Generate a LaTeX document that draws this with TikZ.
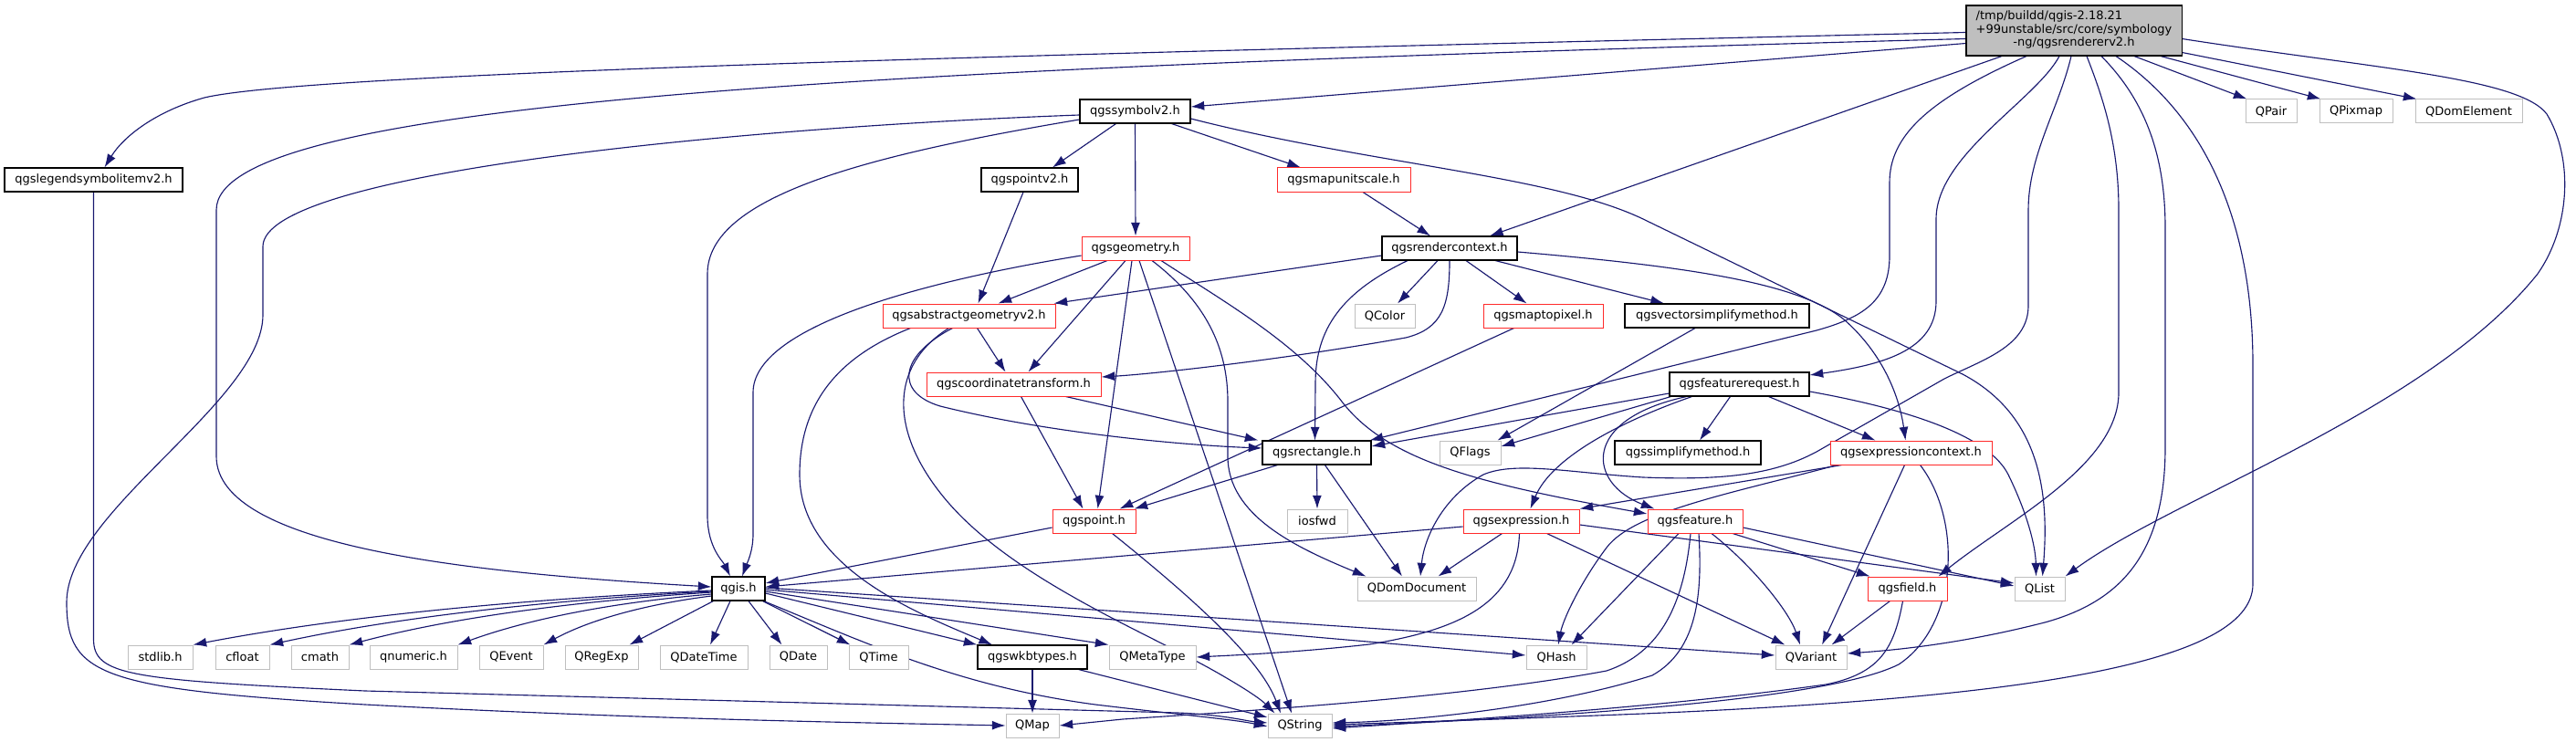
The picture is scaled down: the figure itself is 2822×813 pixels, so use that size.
\documentclass[tikz,border=0pt]{standalone}
\usepackage{fontspec}
\setmainfont{DejaVu Sans}
\usetikzlibrary{calc,arrows.meta}
\definecolor{dxblue}{HTML}{191970}
\definecolor{dxred}{HTML}{FF2A2A}
\definecolor{dxgray}{HTML}{BFBFBF}
\newcommand\nfont{\fontsize{9.75}{11.5}\selectfont}
\pgfdeclarelayer{edges}
\pgfsetlayers{edges,main}
\newcommand\gnode[6]{\node[#1,minimum width=#5*0.75pt] (#2) at (#3,#4) {#6};}
\begin{document}
\begin{tikzpicture}[x=0.75pt,y=-0.75pt,
  nb/.style={draw=black,line width=0.8pt,fill=white,minimum height=19.5pt,inner sep=0pt,font=\nfont},
  nr/.style={nb,draw=dxred,line width=0.75pt},
  ng/.style={nb,draw=dxgray,line width=0.75pt},
  edg/.style={draw=dxblue,line width=0.85pt,-{Latex[length=11pt,width=7.5pt]}}]
\useasboundingbox (0,0) rectangle (2822,813);
% nodes
\node[draw=black,fill=dxgray,line width=0.8pt,minimum width=236*0.75pt,minimum height=55*0.75pt,inner sep=0pt,font=\nfont] (root) at (2272,33.5)
  {\def\arraystretch{0.95}\begin{tabular}{@{}l@{}}/tmp/buildd/qgis-2.18.21\\+99unstable/src/core/symbology\\\multicolumn{1}{@{}c@{}}{-ng/qgsrendererv2.h}\end{tabular}};
\gnode{nb}{symbolv2}{1243.5}{122}{121}{qgssymbolv2.h}
\gnode{ng}{QPair}{2488}{122}{56}{QPair}
\gnode{ng}{QPixmap}{2581}{122}{80}{QPixmap}
\gnode{ng}{QDomElement}{2704.5}{122}{117}{QDomElement}
\gnode{nb}{legend}{102.5}{197}{195}{qgslegendsymbolitemv2.h}
\gnode{nb}{pointv2}{1128}{197}{106}{qgspointv2.h}
\gnode{nr}{mapunitscale}{1472}{197}{146}{qgsmapunitscale.h}
\gnode{nr}{geometry}{1244}{272}{118}{qgsgeometry.h}
\gnode{nb}{rendercontext}{1588}{272}{148}{qgsrendercontext.h}
\gnode{nr}{abstract}{1061.5}{346}{189}{qgsabstractgeometryv2.h}
\gnode{ng}{QColor}{1517}{346}{66}{QColor}
\gnode{nr}{maptopixel}{1690.5}{346}{131}{qgsmaptopixel.h}
\gnode{nb}{vectorsimplify}{1881}{346}{202}{qgsvectorsimplifymethod.h}
\gnode{nr}{coordtrans}{1110.5}{421}{191}{qgscoordinatetransform.h}
\gnode{nb}{featurereq}{1905.5}{421}{153}{qgsfeaturerequest.h}
\gnode{nb}{rectangle}{1442.5}{496}{119}{qgsrectangle.h}
\gnode{ng}{QFlags}{1610.5}{496}{67}{QFlags}
\gnode{nb}{simplify}{1849}{496}{160}{qgssimplifymethod.h}
\gnode{nr}{exprctx}{2093.5}{496}{177}{qgsexpressioncontext.h}
\gnode{nr}{point}{1198.5}{571}{91}{qgspoint.h}
\gnode{ng}{iosfwd}{1443}{571}{66}{iosfwd}
\gnode{nr}{expression}{1666.5}{571}{127}{qgsexpression.h}
\gnode{nr}{feature}{1857}{571}{104}{qgsfeature.h}
\gnode{ng}{QDomDocument}{1552}{645}{130}{QDomDocument}
\gnode{nr}{field}{2089.5}{645}{87}{qgsfield.h}
\gnode{ng}{QList}{2234.5}{645}{55}{QList}
\gnode{nb}{qgis}{809}{645}{58}{qgis.h}
\gnode{ng}{stdlib}{175.5}{720}{71}{stdlib.h}
\gnode{ng}{cfloat}{265.5}{720}{59}{cfloat}
\gnode{ng}{cmath}{350.5}{720}{63}{cmath}
\gnode{ng}{qnumeric}{453}{720}{96}{qnumeric.h}
\gnode{ng}{QEvent}{560}{720}{70}{QEvent}
\gnode{ng}{QRegExp}{659}{720}{80}{QRegExp}
\gnode{ng}{QDateTime}{771}{720}{96}{QDateTime}
\gnode{ng}{QDate}{874.5}{720}{63}{QDate}
\gnode{ng}{QTime}{962.5}{720}{65}{QTime}
\gnode{nb}{wkbtypes}{1131}{720}{120}{qgswkbtypes.h}
\gnode{ng}{QMetaType}{1262.5}{720}{95}{QMetaType}
\gnode{ng}{QHash}{1705}{720}{66}{QHash}
\gnode{ng}{QVariant}{1984}{720}{78}{QVariant}
\gnode{ng}{QMap}{1131}{795}{58}{QMap}
\gnode{ng}{QString}{1424}{795}{70}{QString}
% edges
\begin{pgfonlayer}{edges}
\fill[white] (0,0) rectangle (2822,813);
% root
\draw[edg] ($(root.west)+(0,2)$) .. controls (1000,62) and (330,82) .. (224,107) .. controls (170,122) and (135,150) .. ($(legend.north)+(12,0)$);
\draw[edg] ($(root.west)+(0,9)$) .. controls (950,75) and (237,110) .. (237,230) -- (237,500) .. controls (237,600) and (520,628) .. ($(qgis.west)+(0,-2)$);
\draw[edg] ($(root.west)+(0,14)$) -- ($(symbolv2.east)+(0,-5)$);
\draw[edg] ($(root.south)+(-79,0)$) -- ($(rendercontext.north)+(44,0)$);
\draw[edg] ($(root.south)+(-52,0)$) .. controls (2110,110) and (2070,150) .. (2070,200) -- (2070,280) .. controls (2070,330) and (2040,348) .. (1990,362) -- ($(rectangle.north east)+(-2,0)$);
\draw[edg] ($(root.south)+(-16,0)$) .. controls (2230,110) and (2121,170) .. (2121,240) -- (2121,330) .. controls (2121,385) and (2060,400) .. ($(featurereq.east)+(0,-10)$);
\draw[edg] ($(root.south)+(-3,0)$) .. controls (2255,120) and (2222,170) .. (2222,230) -- (2222,335) .. controls (2222,380) and (2170,395) .. (2130,415) -- (1990,495) .. controls (1940,522) and (1880,526) .. (1800,523) .. controls (1720,518) and (1660,505) .. (1625,520) .. controls (1580,545) and (1560,590) .. ($(QDomDocument.north)+(4,0)$);
\draw[edg] ($(root.south)+(14,0)$) .. controls (2305,110) and (2321,160) .. (2321,230) -- (2321,430) .. controls (2321,510) and (2200,570) .. ($(field.north east)+(-10,0)$);
\draw[edg] ($(root.south)+(30,0)$) .. controls (2350,110) and (2372,170) .. (2372,250) -- (2372,490) .. controls (2372,610) and (2320,660) .. (2240,682) .. controls (2150,705) and (2080,712) .. ($(QVariant.east)+(0,-4)$);
\draw[edg] ($(root.south)+(46,0)$) .. controls (2420,130) and (2468,250) .. (2468,400) -- (2468,640) .. controls (2468,730) and (2200,765) .. (1800,782) .. controls (1650,788) and (1520,792) .. ($(QString.east)+(0,-1)$);
\draw[edg] ($(root.south)+(66,0)$) -- ($(QPair.north west)+(2,0)$);
\draw[edg] ($(root.south)+(95,0)$) -- ($(QPixmap.north west)+(2,0)$);
\draw[edg] ($(root.east)+(0,24)$) -- ($(QDomElement.north west)+(2,0)$);
\draw[edg] ($(root.east)+(0,9)$) .. controls (2600,75) and (2760,85) .. (2790,125) .. controls (2820,175) and (2815,250) .. (2780,300) .. controls (2660,450) and (2380,545) .. (QList.north east);
% legend
\draw[edg] (legend.south) -- (102.5,700) .. controls (102.5,740) and (140,745) .. (400,757) -- (1290,781) .. controls (1340,783) and (1365,790) .. ($(QString.west)+(0,-3)$);
% symbolv2
\draw[edg] ($(symbolv2.west)+(0,4)$) .. controls (800,140) and (288,190) .. (288,270) -- (288,345) .. controls (288,440) and (73,560) .. (73,660) .. controls (73,740) and (110,755) .. (400,772) .. controls (700,788) and (950,792) .. (QMap.west);
\draw[edg] ($(symbolv2.west)+(0,9)$) .. controls (950,170) and (775,215) .. (775,300) -- (775,565) .. controls (775,600) and (792,615) .. ($(qgis.north)+(-9,0)$);
\draw[edg] ($(symbolv2.south)+(-21,0)$) -- ($(pointv2.north)+(25,0)$);
\draw[edg] (symbolv2.south) -- (geometry.north);
\draw[edg] ($(symbolv2.south)+(40,0)$) -- ($(mapunitscale.north)+(-47,0)$);
\draw[edg] ($(symbolv2.east)+(0,8)$) .. controls (1500,180) and (1700,192) .. (1800,240) -- (2150,410) .. controls (2235,455) and (2245,540) .. ($(QList.north)+(3,0)$);
\draw[edg] ($(pointv2.south)+(-7,0)$) -- ($(abstract.north)+(10,0)$);
\draw[edg] ($(mapunitscale.south)+(21,0)$) -- ($(rendercontext.north)+(-21,0)$);
% geometry
\draw[edg] ($(geometry.west)+(0,8)$) .. controls (1000,310) and (825,360) .. (825,430) -- (825,585) .. controls (825,605) and (818,618) .. ($(qgis.north)+(4,0)$);
\draw[edg] ($(geometry.south)+(-31,0)$) -- ($(abstract.north)+(32,0)$);
\draw[edg] ($(geometry.south)+(-11,0)$) -- ($(coordtrans.north)+(16,0)$);
\draw[edg] ($(geometry.south)+(-4,0)$) -- ($(point.north)+(4,0)$);
\draw[edg] ($(geometry.south)+(4,0)$) -- ($(QString.north)+(-9,0)$);
\draw[edg] ($(geometry.south)+(18,0)$) .. controls (1320,330) and (1345,380) .. (1345,440) -- (1345,500) .. controls (1345,565) and (1420,600) .. ($(QDomDocument.north west)+(10,0)$);
\draw[edg] ($(geometry.south)+(28,0)$) .. controls (1340,330) and (1420,375) .. (1470,440) .. controls (1520,505) and (1620,530) .. ($(feature.west)+(0,-8)$);
% rendercontext
\draw[edg] ($(rendercontext.west)+(0,8)$) -- ($(abstract.north east)+(-2,0)$);
\draw[edg] ($(rendercontext.south)+(-46,0)$) .. controls (1470,320) and (1441,360) .. (1441,420) -- ($(rectangle.north)+(-2,0)$);
\draw[edg] ($(rendercontext.south)+(-13,0)$) -- ($(QColor.north)+(14,0)$);
\draw[edg] (rendercontext.south) .. controls (1588,335) and (1580,360) .. (1540,370) .. controls (1400,395) and (1260,410) .. ($(coordtrans.east)+(0,-8)$);
\draw[edg] ($(rendercontext.south)+(18,0)$) -- ($(maptopixel.north)+(-18,0)$);
\draw[edg] ($(rendercontext.south)+(50,0)$) -- ($(vectorsimplify.north)+(-58,0)$);
\draw[edg] ($(rendercontext.east)+(0,4)$) .. controls (1850,292) and (1970,310) .. (2020,350) .. controls (2060,385) and (2080,430) .. ($(exprctx.north)+(-6,0)$);
% abstract geometry
\draw[edg] ($(abstract.south)+(9,0)$) -- ($(coordtrans.north)+(-9,0)$);
\draw[edg] ($(abstract.south)+(-18,0)$) .. controls (985,390) and (980,430) .. (1030,445) .. controls (1150,475) and (1300,488) .. ($(rectangle.west)+(0,-5)$);
\draw[edg] ($(abstract.south)+(-22,0)$) .. controls (975,400) and (975,470) .. (1030,540) .. controls (1100,630) and (1250,690) .. (1330,735) .. controls (1360,752) and (1380,765) .. ($(QString.north west)+(8,0)$);
\draw[edg] ($(abstract.south)+(-64,0)$) .. controls (920,390) and (876,440) .. (876,520) .. controls (876,620) and (1000,670) .. ($(wkbtypes.north)+(-44,0)$);
% coordinate transform, maptopixel, vectorsimplify
\draw[edg] ($(coordtrans.south)+(8,0)$) -- ($(point.north)+(-12,0)$);
\draw[edg] ($(coordtrans.south)+(57,0)$) -- ($(rectangle.north west)+(-4,0)$);
\draw[edg] ($(maptopixel.south)+(-32,0)$) -- ($(point.north east)+(-18,0)$);
\draw[edg] ($(vectorsimplify.south)+(-24,0)$) -- ($(QFlags.north east)+(-4,0)$);
% feature request
\draw[edg] ($(featurereq.west)+(0,10)$) -- ($(rectangle.east)+(0,-7)$);
\draw[edg] ($(featurereq.south west)+(2,0)$) -- ($(QFlags.east)+(0,-7)$);
\draw[edg] ($(featurereq.south)+(-10,0)$) -- ($(simplify.north)+(13,0)$);
\draw[edg] ($(featurereq.south)+(32,0)$) -- ($(exprctx.north west)+(50,0)$);
\draw[edg] ($(featurereq.east)+(0,8)$) .. controls (2100,450) and (2180,480) .. (2200,520) .. controls (2222,565) and (2230,600) .. ($(QList.north)+(-4,0)$);
\draw[edg] ($(featurereq.south)+(-52,0)$) .. controls (1780,460) and (1700,500) .. ($(expression.north)+(10,0)$);
\draw[edg] ($(featurereq.south)+(-58,0)$) .. controls (1730,460) and (1740,530) .. ($(feature.north west)+(8,0)$);
% rectangle
\draw[edg] ($(rectangle.south)+(-43,0)$) -- ($(point.north east)+(-2,0)$);
\draw[edg] (rectangle.south) -- (iosfwd.north);
\draw[edg] ($(rectangle.south)+(9,0)$) -- ($(QDomDocument.north)+(-16,0)$);
% expression context
\draw[edg] ($(exprctx.south west)+(13,0)$) -- (expression.north east);
\draw[edg] ($(exprctx.south west)+(8,0)$) .. controls (1900,540) and (1790,560) .. (1760,600) .. controls (1730,640) and (1712,680) .. ($(QHash.north)+(2,0)$);
\draw[edg] ($(exprctx.south)+(-7,0)$) -- ($(QVariant.north)+(12,0)$);
\draw[edg] ($(exprctx.south)+(10,0)$) .. controls (2150,570) and (2145,685) .. (2080,728) .. controls (2000,768) and (1700,786) .. ($(QString.east)+(0,1)$);
% expression
\draw[edg] ($(expression.west)+(0,6)$) -- ($(qgis.east)+(0,-2)$);
\draw[edg] ($(expression.south)+(-21,0)$) -- ($(QDomDocument.north east)+(-42,0)$);
\draw[edg] ($(expression.south)+(-2,0)$) .. controls (1662,660) and (1600,690) .. (1500,706) .. controls (1420,715) and (1350,718) .. (QMetaType.east);
\draw[edg] ($(expression.south)+(28,0)$) -- ($(QVariant.north west)+(11,0)$);
\draw[edg] ($(expression.east)+(0,4)$) -- ($(QList.west)+(0,-6)$);
% feature
\draw[edg] ($(feature.south)+(-18,0)$) -- ($(QHash.north east)+(-17,0)$);
\draw[edg] ($(feature.south)+(-5,0)$) .. controls (1845,660) and (1820,715) .. (1760,735) .. controls (1600,765) and (1350,780) .. (1230,788) -- (QMap.east);
\draw[edg] ($(feature.south)+(4,0)$) .. controls (1865,650) and (1860,712) .. (1810,740) .. controls (1700,775) and (1550,790) .. ($(QString.east)+(0,-3)$);
\draw[edg] ($(feature.south)+(18,0)$) .. controls (1920,620) and (1960,670) .. ($(QVariant.north)+(-12,0)$);
\draw[edg] ($(feature.south)+(41,0)$) -- ($(field.north west)+(3,0)$);
\draw[edg] ($(feature.east)+(0,7)$) -- ($(QList.west)+(0,-3)$);
% field
\draw[edg] ($(field.south)+(-19,0)$) -- ($(QVariant.north east)+(-17,0)$);
\draw[edg] ($(field.south)+(-5,0)$) .. controls (2075,710) and (2060,738) .. (2000,750) .. controls (1800,778) and (1550,792) .. ($(QString.east)+(0,3)$);
% point
\draw[edg] ($(point.west)+(0,7)$) -- ($(qgis.east)+(0,-6)$);
\draw[edg] ($(point.south)+(20,0)$) .. controls (1300,650) and (1380,720) .. ($(QString.north)+(-21,0)$);
% qgis
\draw[edg] ($(qgis.west)+(0,2)$) .. controls (581,656) and (382,674) .. (stdlib.north east);
\draw[edg] ($(qgis.west)+(0,3)$) .. controls (610,657) and (440,675) .. (cfloat.north east);
\draw[edg] ($(qgis.west)+(0,4)$) .. controls (641,658) and (501,675) .. (cmath.north east);
\draw[edg] ($(qgis.west)+(0,6)$) .. controls (682,659) and (585,676) .. (qnumeric.north east);
\draw[edg] ($(qgis.west)+(0,8)$) .. controls (715,661) and (650,677) .. (QEvent.north east);
\draw[edg] ($(qgis.south west)+(2,0)$) -- ($(QRegExp.north east)+(-10,0)$);
\draw[edg] ($(qgis.south)+(-9,0)$) -- ($(QDateTime.north)+(7,0)$);
\draw[edg] ($(qgis.south)+(11,0)$) -- ($(QDate.north west)+(14,0)$);
\draw[edg] ($(qgis.south east)+(-3,0)$) -- ($(QTime.north west)+(2,0)$);
\draw[edg] ($(qgis.east)+(0,5)$) -- (wkbtypes.north west);
\draw[edg] ($(qgis.east)+(0,3)$) -- (QMetaType.north west);
\draw[edg] ($(qgis.east)+(0,1)$) -- ($(QHash.west)+(0,-2)$);
\draw[edg] ($(qgis.east)+(0,-1)$) -- ($(QVariant.west)+(0,-2)$);
\draw[edg] ($(qgis.south east)+(-2,0)$) .. controls (950,705) and (1050,752) .. (1200,772) .. controls (1300,784) and (1350,788) .. ($(QString.west)+(0,1)$);
% wkbtypes
\draw[edg] (wkbtypes.south) -- (QMap.north);
\draw[edg] ($(wkbtypes.south east)+(-10,0)$) -- ($(QString.west)+(0,-9)$);
\end{pgfonlayer}
\end{tikzpicture}
\end{document}
